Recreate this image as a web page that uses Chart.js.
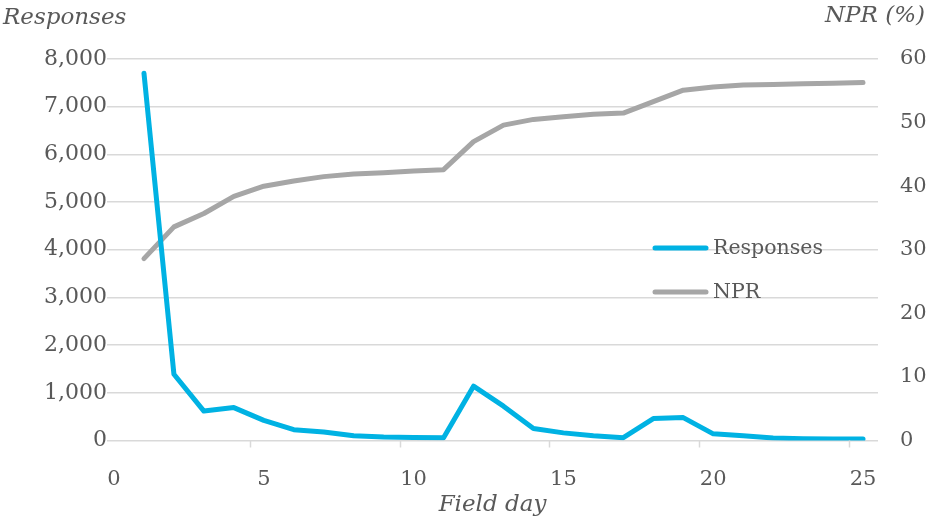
<!DOCTYPE html>
<html>
<head>
<meta charset="utf-8">
<script src="https://cdn.jsdelivr.net/npm/chart.js@4/dist/chart.umd.min.js"></script>
<style>
  html, body { margin: 0; padding: 0; background: #ffffff; }
  #wrap { width: 928px; height: 519px; position: relative; }
</style>
</head>
<body>
<div id="wrap"><canvas id="c" width="928" height="519"></canvas></div>
<script>
// ---- data ----
const fieldDays = [1,2,3,4,5,6,7,8,9,10,11,12,13,14,15,16,17,18,19,20,21,22,23,24,25];
const responses = [7700,1390,617,690,423,226,178,100,75,65,60,1140,720,250,160,100,60,460,480,140,100,50,35,30,30];
const nprPercent = [28.6,33.6,35.7,38.4,40.0,40.8,41.5,41.9,42.1,42.4,42.6,47.0,49.6,50.5,50.9,51.3,51.5,53.3,55.1,55.6,55.9,56.0,56.1,56.2,56.3];
const xTickValues = [0,5,10,15,20,25];
const leftTitle = 'Responses';
const rightTitle = 'NPR (%)';
const xTitle = 'Field day';
const seriesLabels = ['Responses','NPR'];
const seriesColors = ['#00B2E3','#A6A6A6'];

const textColor = '#595959';
const gridColor = '#D9D9D9';
const FONT = "'DejaVu Serif', 'Liberation Serif', serif";

const decor = {
  id: 'decor',
  afterDraw(chart) {
    const ctx = chart.ctx;
    const ca = chart.chartArea;
    const xs = chart.scales.x;
    ctx.save();
    // small tick marks under the axis (Excel style, between categories)
    ctx.strokeStyle = gridColor;
    ctx.lineWidth = 1.5;
    xTickValues.slice(1).forEach(v => {
      const px = Math.round(xs.getPixelForValue(v - 0.47)) + 0.5;
      ctx.beginPath();
      ctx.moveTo(px, ca.bottom);
      ctx.lineTo(px, ca.bottom + 7);
      ctx.stroke();
    });
    // axis titles at the top
    ctx.fillStyle = textColor;
    ctx.font = "italic 23px " + FONT;
    ctx.textBaseline = 'middle';
    ctx.textAlign = 'left';
    ctx.fillText(leftTitle, 3, 18);
    ctx.textAlign = 'right';
    ctx.fillText(rightTitle, 925, 16);
    // legend inside plot
    ctx.font = "20.5px " + FONT;
    ctx.textAlign = 'left';
    const items = chart.data.datasets;
    const ys = [248, 292];
    items.forEach((ds, i) => {
      ctx.strokeStyle = ds.borderColor;
      ctx.lineWidth = 5;
      ctx.lineCap = 'round';
      ctx.beginPath();
      ctx.moveTo(655, ys[i]);
      ctx.lineTo(706, ys[i]);
      ctx.stroke();
      ctx.fillStyle = textColor;
      ctx.fillText(ds.label, 713, ys[i] + 1);
    });
    ctx.restore();
  }
};

new Chart(document.getElementById('c'), {
  type: 'line',
  data: {
    datasets: [
      {
        label: seriesLabels[0],
        data: fieldDays.map((d, i) => ({x: d, y: responses[i]})),
        borderColor: seriesColors[0],
        backgroundColor: seriesColors[0],
        borderWidth: 5,
        pointRadius: 0,
        tension: 0,
        borderJoinStyle: 'round',
        borderCapStyle: 'round',
        yAxisID: 'y'
      },
      {
        label: seriesLabels[1],
        data: fieldDays.map((d, i) => ({x: d, y: nprPercent[i]})),
        borderColor: seriesColors[1],
        backgroundColor: seriesColors[1],
        borderWidth: 5,
        pointRadius: 0,
        tension: 0,
        borderJoinStyle: 'round',
        borderCapStyle: 'round',
        yAxisID: 'y1'
      }
    ]
  },
  options: {
    responsive: false,
    animation: false,
    layout: { padding: { top: 59, left: 0, right: 0, bottom: 0 } },
    plugins: {
      legend: { display: false },
      tooltip: { enabled: false }
    },
    scales: {
      x: {
        type: 'linear',
        min: -0.234,
        max: 25.5,
        afterBuildTicks(scale) { scale.ticks = xTickValues.map(v => ({value: v})); },
        afterFit(scale) { scale.height = 78.5; },
        grid: { display: false },
        border: { display: false },
        ticks: {
          color: textColor,
          font: { family: FONT, size: 21 },
          padding: 18,
          maxRotation: 0
        },
        title: {
          display: true,
          text: xTitle,
          color: textColor,
          font: { family: FONT, size: 23, style: 'italic' },
          padding: { top: 4, bottom: 0 }
        }
      },
      y: {
        position: 'left',
        min: 0,
        max: 8000,
        afterBuildTicks(scale) {
          const t = [];
          for (let v = 0; v <= 8000; v += 1000) t.push({value: v});
          scale.ticks = t;
        },
        afterFit(scale) { scale.width = 107; },
        grid: { color: gridColor, lineWidth: 1.5, drawTicks: false },
        border: { display: false },
        ticks: {
          color: textColor,
          font: { family: FONT, size: 22 },
          padding: 0,
          callback: v => v.toLocaleString('en-US')
        }
      },
      y1: {
        position: 'right',
        min: 0,
        max: 60,
        afterBuildTicks(scale) {
          const t = [];
          for (let v = 0; v <= 60; v += 10) t.push({value: v});
          scale.ticks = t;
        },
        afterFit(scale) { scale.width = 50; },
        grid: { display: false, drawTicks: false },
        border: { display: false },
        ticks: {
          color: textColor,
          font: { family: FONT, size: 21 },
          padding: 22
        }
      }
    }
  },
  plugins: [decor]
});
</script>
</body>
</html>
